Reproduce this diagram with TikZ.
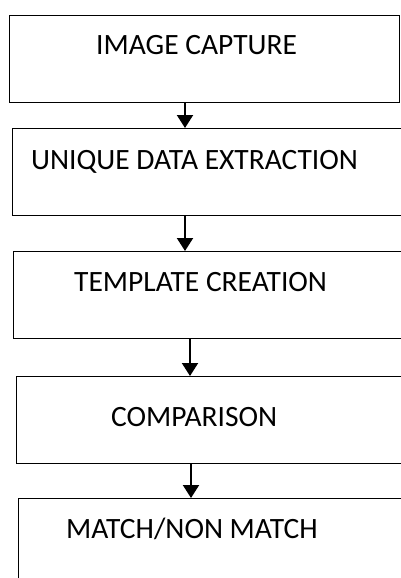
\documentclass[tikz,border=0pt]{standalone}
\usepackage{fontspec}
\setmainfont{Carlito}
\usetikzlibrary{arrows.meta}
\tikzset{
  stepbox/.style={draw=black, line width=1.4pt, rectangle, anchor=north west, inner sep=0pt},
  label text/.style={anchor=base west, inner sep=0pt, font=\fontsize{29.5}{35}\selectfont},
  flow/.style={draw=black, line width=2pt, -{Triangle[width=16pt,length=13pt]}},
}
\begin{document}
\begin{tikzpicture}[x=1pt, y=-1pt]
  \useasboundingbox (0,0) rectangle (401,578);
  \clip (0,0) rectangle (401,578);
  \fill[white] (0,0) rectangle (401,578);

  % process boxes
  \node[stepbox, minimum width=390pt, minimum height=87pt] (b1) at (9,15) {};
  \node[stepbox, minimum width=420pt, minimum height=87pt] (b2) at (12,128) {};
  \node[stepbox, minimum width=420pt, minimum height=87pt] (b3) at (13,251) {};
  \node[stepbox, minimum width=420pt, minimum height=87pt] (b4) at (16,376) {};
  \node[stepbox, minimum width=420pt, minimum height=120pt] (b5) at (18,498) {};

  % box captions
  \node[label text] (t1) at (96,55)  {IMAGE CAPTURE};
  \node[label text] (t2) at (31,169) {UNIQUE DATA EXTRACTION};
  \node[label text] (t3) at (74,291) {TEMPLATE CREATION};
  \node[label text] (t4) at (111,426) {COMPARISON};
  \node[label text] (t5) at (66,538) {MATCH/NON MATCH};

  % arrow columns
  \coordinate (x1) at (185,0);
  \coordinate (x2) at (185,0);
  \coordinate (x3) at (190,0);
  \coordinate (x4) at (191,0);

  \draw[flow] (b1.south -| x1) -- (b2.north -| x1);
  \draw[flow] (b2.south -| x2) -- (b3.north -| x2);
  \draw[flow] (b3.south -| x3) -- (b4.north -| x3);
  \draw[flow] (b4.south -| x4) -- (b5.north -| x4);
\end{tikzpicture}
\end{document}
